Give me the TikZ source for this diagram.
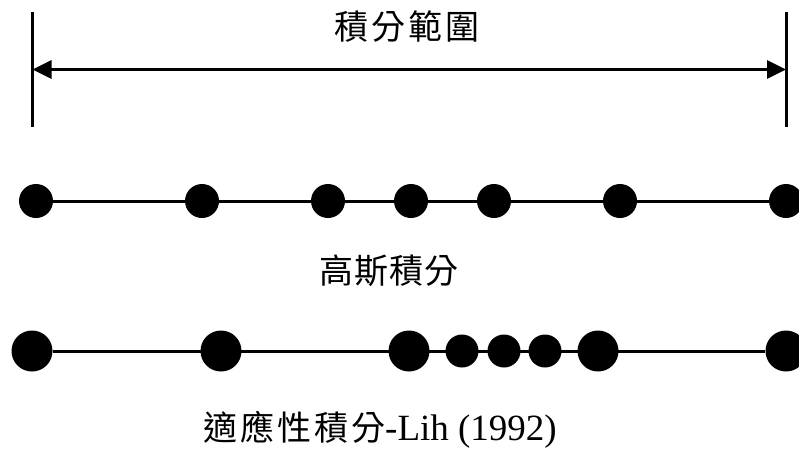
\documentclass[tikz,border=0pt]{standalone}
\usepackage{fontspec}
\setmainfont{Liberation Serif}
\newfontfamily\cjk{Noto Sans CJK TC}
\usetikzlibrary{arrows.meta}
\begin{document}
\begin{tikzpicture}[x=1pt,y=-1pt,
  dot/.style={circle,fill=black,inner sep=0pt,minimum size=34pt},
  bigdot/.style={circle,fill=black,inner sep=0pt,minimum size=41pt},
  smalldot/.style={circle,fill=black,inner sep=0pt,minimum size=33pt},
  bar/.style={line width=3pt},
  link/.style={line width=3pt},
  span/.style={line width=3pt,{Triangle[length=19pt,width=18pt]}-{Triangle[length=19pt,width=18pt]}},
  lbl/.style={inner sep=0pt,font=\cjk\fontsize{34}{34}\selectfont},
]
\useasboundingbox (0,0) rectangle (799,453);
\clip (0,0) rectangle (799,453);
% range markers
\coordinate (lt) at (32.5,12);
\coordinate (lb) at (32.5,127);
\coordinate (rt) at (786,12);
\coordinate (rb) at (786,127);
\coordinate (la) at (32.5,69.5);
\coordinate (ra) at (786,69.5);
\draw[bar] (lt) -- (lb);
\draw[bar] (rt) -- (rb);
\draw[span] (la) -- (ra);
\node[lbl] (title) at (407,27) {積\kern3pt 分\kern3pt 範\kern3pt 圍};
% Gauss row
\node[dot] (g1) at (36,201) {};
\node[dot] (g2) at (202,201) {};
\node[dot] (g3) at (328,201) {};
\node[dot] (g4) at (411,201) {};
\node[dot] (g5) at (494,201) {};
\node[dot] (g6) at (620,201) {};
\node[dot] (g7) at (786,201) {};
\draw[link] (g1) -- (g7);
\node[lbl] (gauss) at (389,271) {高\kern1pt 斯\kern1pt 積\kern1pt 分};
% adaptive row
\node[bigdot] (a1) at (32,351) {};
\node[bigdot] (a2) at (221,351) {};
\node[bigdot] (a3) at (409,351) {};
\node[smalldot] (a4) at (462,351) {};
\node[smalldot] (a5) at (504,351) {};
\node[smalldot] (a6) at (545,351) {};
\node[bigdot] (a7) at (598,351) {};
\node[bigdot] (a8) at (786,351) {};
\draw[link] (a1) -- (a8);
\node[lbl,anchor=base west] (adapt) at (203,440) {適\kern3pt 應\kern3pt 性\kern3pt 積\kern3pt 分{\rmfamily\fontsize{37}{37}\selectfont -Lih (1992)}};
\end{tikzpicture}
\end{document}
